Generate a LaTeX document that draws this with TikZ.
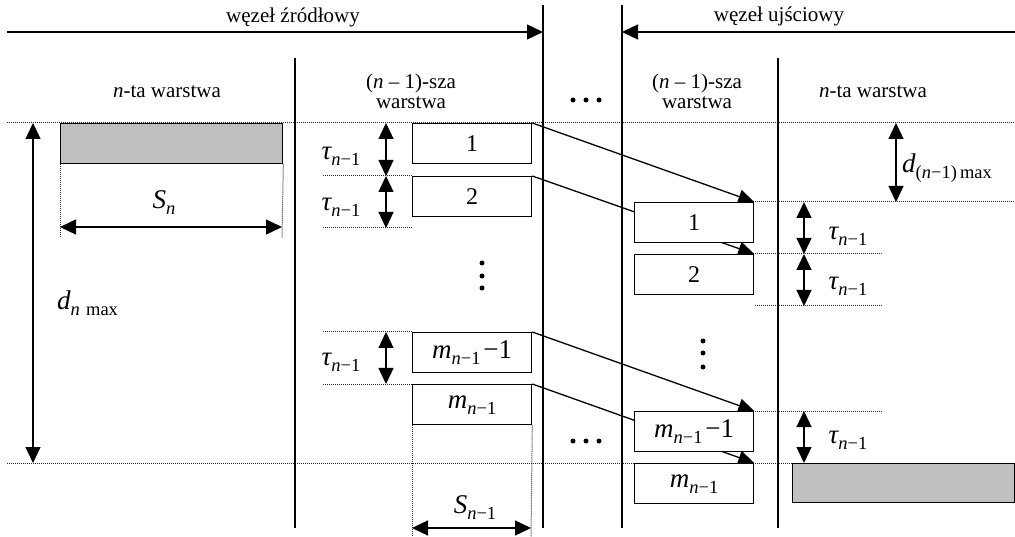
\documentclass[tikz,border=0pt]{standalone}
\usepackage{fontspec}
\setmainfont{Liberation Serif}
\usetikzlibrary{arrows.meta}
\definecolor{layergray}{RGB}{192,192,192}
\pgfdeclarelayer{bg}
\pgfsetlayers{bg,main}
% italic variable, subscript
\newcommand{\vr}[1]{{\fontsize{27}{27}\selectfont\itshape #1}}
\newcommand{\sbs}[1]{\raisebox{-6pt}{\fontsize{18.5}{18}\selectfont #1}}
\newcommand{\taun}{\vr{τ}\sbs{\textit{n}−1}}
\newcommand{\mlast}{\vr{m}\sbs{\textit{n}−1}}
\newcommand{\mprev}{\mlast\;{\fontsize{27}{27}\selectfont −1}}
\begin{document}
\begin{tikzpicture}[x=1pt,y=-1pt,
  txt/.style={font=\fontsize{21}{20}\selectfont, inner sep=0pt, align=center},
  lbl/.style={inner sep=0pt},
  boxnum/.style={font=\fontsize{24}{24}\selectfont},
  lbox/.style={draw, fill=white, line width=1.3pt, minimum width=119pt,
    minimum height=40pt, inner sep=0pt, anchor=north west},
  gbox/.style={lbox, fill=layergray, minimum width=222pt},
  sep/.style={line width=1.5pt},
  guide/.style={line width=1pt, dash pattern=on 1pt off 1pt, black!85},
  dim/.style={line width=1.3pt, {Triangle[length=16pt,width=15pt]}-{Triangle[length=16pt,width=15pt]}},
  span/.style={line width=1.3pt, -{Triangle[length=16pt,width=15pt]}},
  link/.style={line width=1.3pt, -{Triangle[length=16pt,width=14pt]}},
  dot/.style={circle, fill, inner sep=0pt, minimum size=5pt}]
\useasboundingbox (0,0) rectangle (1015,537);

% headers
\node[txt] (src) at (293,17) {węzeł źródłowy};
\node[txt] (dst) at (779,16) {węzeł ujściowy};
\coordinate (srcL) at (7,32);
\coordinate (srcR) at (543,32);
\coordinate (dstL) at (622,32);
\coordinate (dstR) at (1015,32);

\node[txt] (hL) at (167,92) {\textit{n}-ta warstwa};
\node[txt] (hLm) at (411,91) {(\textit{n} – 1)-sza\\warstwa};
\node[txt] (hRm) at (697,91) {(\textit{n} – 1)-sza\\warstwa};
\node[txt] (hR) at (873,92) {\textit{n}-ta warstwa};
\foreach \i/\x in {1/573,2/586,3/599} {
  \node[dot] (tdot\i) at (\x,100) {};
  \node[dot] (bdot\i) at (\x,441) {};
}
\foreach \i/\y in {1/263,2/276,3/288} \node[dot] (mdot\i) at (482,\y) {};
\foreach \i/\y in {1/341,2/353,3/367} \node[dot] (rdot\i) at (703,\y) {};

% layers of the source node
\node[gbox] (layS) at (60,123) {};
\node[lbox,boxnum] (mb1) at (412,123) {1};
\node[lbox,boxnum] (mb2) at (412,176) {2};
\node[lbox] (mbm1) at (412,332) {\mprev};
\node[lbox] (mbm) at (412,384) {\mlast};

% layers of the destination node
\node[lbox,boxnum] (rb1) at (634,202) {1};
\node[lbox,boxnum] (rb2) at (634,254) {2};
\node[lbox] (rbm1) at (634,411) {\mprev};
\node[lbox] (rbm) at (634,463) {\mlast};
\node[gbox, minimum height=39pt] (layD) at (792,463) {};

% dimension labels
\node[lbl] (Sn) at (164,203) {\vr{S}\sbs{\textit{n}}};
\node[lbl, anchor=west] (dn) at (57,303) {\vr{d}\sbs{\textit{n}\,\,max}};
\node[lbl] (Sn1) at (475,508) {\vr{S}\sbs{\textit{n}−1}};
\node[lbl, anchor=west] (dn1) at (902,168) {\vr{d}\sbs{(\textit{n}−1)\,max}};
\node[lbl] (tm1) at (341,156) {\taun};
\node[lbl] (tm2) at (341,207) {\taun};
\node[lbl] (tm3) at (341,362) {\taun};
\node[lbl] (tr1) at (848,236) {\taun};
\node[lbl] (tr2) at (848,286) {\taun};
\node[lbl] (tr3) at (848,440) {\taun};

% dimension end points
\coordinate (a0) at (33,123);  \coordinate (a1) at (33,463);
\coordinate (s0) at (60,227);  \coordinate (s1) at (282,227);
\coordinate (q0) at (412,528); \coordinate (q1) at (531,528);
\coordinate (m0) at (386,123); \coordinate (m1) at (386,176); \coordinate (m2) at (386,228);
\coordinate (m3) at (386,332); \coordinate (m4) at (386,384);
\coordinate (r0) at (804,202); \coordinate (r1) at (804,254); \coordinate (r2) at (804,306);
\coordinate (r3) at (804,411); \coordinate (r4) at (804,463);
\coordinate (e0) at (896,123); \coordinate (e1) at (896,202);

\begin{pgfonlayer}{bg}
  % guides
  \draw[guide] (7,123) -- (1015,123);
  \draw[guide] (7,463) -- (1015,463);
  \draw[guide] (323,176) -- (412,176);
  \draw[guide] (323,228) -- (413,228);
  \draw[guide] (323,332) -- (412,332);
  \draw[guide] (323,384) -- (412,384);
  \draw[guide] (753,202) -- (1015,202);
  \draw[guide] (753,254) -- (883,254);
  \draw[guide] (755,306) -- (883,306);
  \draw[guide] (753,411) -- (883,411);
  \draw[guide] (layS.south west) -- (60,238);
  \draw[guide] (layS.south east) -- (282,238);
  \draw[guide] (mbm.south west) -- (412,537);
  \draw[guide] (mbm.south east) -- (531,537);
  % column separators
  \draw[sep] (295,58) -- (295,528);
  \draw[sep] (543,5) -- (543,528);
  \draw[sep] (622,5) -- (622,528);
  \draw[sep] (778,58) -- (778,528);
  % transfer links
  \draw[link] (mb1.north east) -- (rb1.north east);
  \draw[link] (mb2.north east) -- (rb2.north east);
  \draw[link] (mbm1.north east) -- (rbm1.north east);
  \draw[link] (mbm.north east) -- (rbm.north east);
\end{pgfonlayer}

% node extents
\draw[span] (srcL) -- (srcR);
\draw[span] (dstR) -- (dstL);
% dimensions
\draw[dim] (a0) -- (a1);
\draw[dim] (s0) -- (s1);
\draw[dim] (q0) -- (q1);
\draw[dim] (m0) -- (m1);
\draw[dim] (m1) -- (m2);
\draw[dim] (m3) -- (m4);
\draw[dim] (r0) -- (r1);
\draw[dim] (r1) -- (r2);
\draw[dim] (r3) -- (r4);
\draw[dim] (e0) -- (e1);
\end{tikzpicture}
\end{document}
